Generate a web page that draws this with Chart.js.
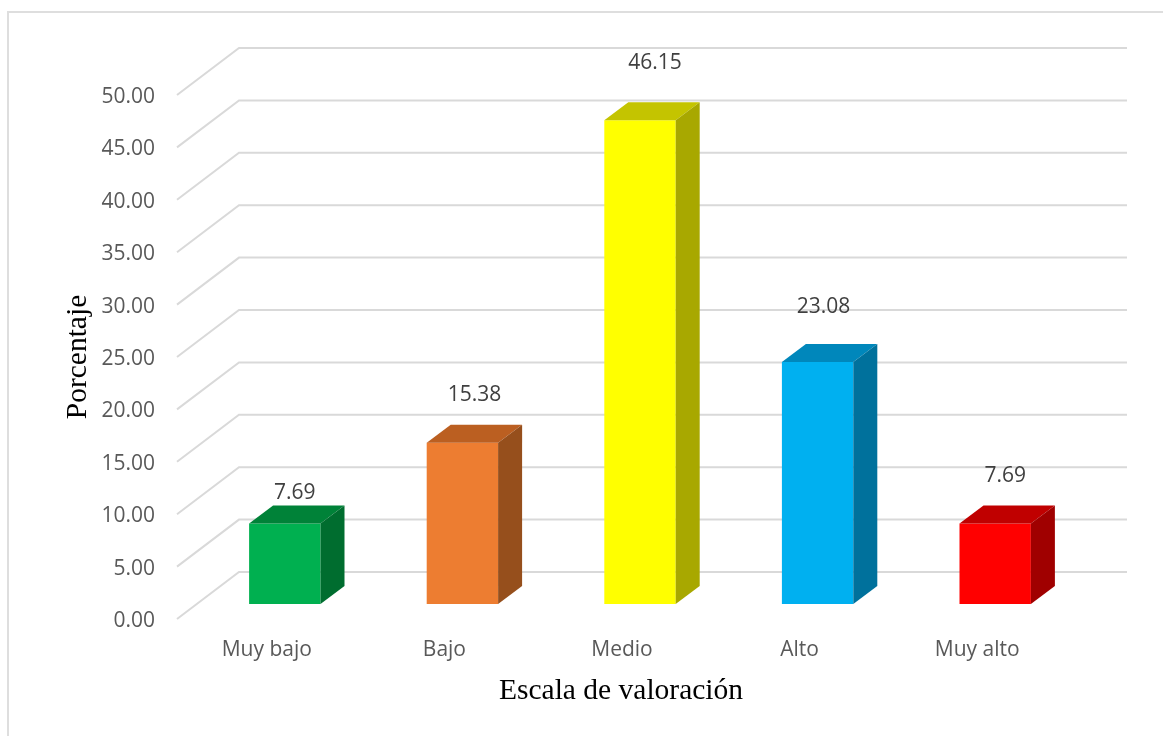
<!DOCTYPE html>
<html>
<head>
<meta charset="utf-8">
<script src="https://cdn.jsdelivr.net/npm/chart.js@4"></script>
<style>
  html, body { margin: 0; padding: 0; background: #fff; }
  #wrap { position: absolute; left: 0; top: 0; width: 1163px; height: 736px; }
  #frame { position: absolute; left: 7px; top: 11px; right: 0; bottom: 0; border-left: 2px solid #dedede; border-top: 2px solid #dedede; }
</style>
</head>
<body>
<div id="wrap"><canvas id="barChart" width="1163" height="736"></canvas><div id="frame"></div></div>
<script>
const categories = ['Muy bajo', 'Bajo', 'Medio', 'Alto', 'Muy alto'];
const porcentajes = [7.69, 15.38, 46.15, 23.08, 7.69];
const etiquetas = ['7.69', '15.38', '46.15', '23.08', '7.69'];
const frontColors = ['#00b050', '#ed7d31', '#ffff00', '#00b0f0', '#ff0000'];
const topColors = ['#008238', '#bb5f21', '#c4c400', '#0087bb', '#c00000'];
const sideColors = ['#006d2f', '#964f1c', '#a8a800', '#00719c', '#a00000'];
// hauteur des etiquettes au-dessus de la barre, deplacees a la main dans l'original
const labelLift = [30, 48, 57, 55, 47];
const labelShift = [10, 12, 15, 6, 10];
const yMax = 50, yStep = 5;
const xTitle = 'Escala de valoración', yTitle = 'Porcentaje';

const DEPTH_X = 24, DEPTH_Y = 18;   // profondeur d'une barre
const WALL_X = 43, WALL_Y = 32;     // du plan des barres au mur du fond
const FLOOR_X = 19, FLOOR_Y = 15;   // du plan des barres au bord avant

// Murs et grille en perspective
const gridPlugin = {
  id: 'grid3d',
  beforeDatasetsDraw(chart) {
    const { ctx, scales: { x, y } } = chart;
    ctx.save();
    ctx.strokeStyle = '#d9d9d9';
    ctx.lineWidth = 2;
    ctx.lineJoin = 'miter';
    for (let v = 0; v <= yMax; v += yStep) {
      const py = y.getPixelForValue(v);
      ctx.beginPath();
      ctx.moveTo(x.left - FLOOR_X, py + FLOOR_Y);
      ctx.lineTo(x.left + WALL_X, py - WALL_Y);
      ctx.lineTo(x.right + WALL_X, py - WALL_Y);
      ctx.stroke();
    }
    ctx.restore();
  }
};

// Faces du dessus et du cote de chaque barre, etiquettes et titres
const bar3dPlugin = {
  id: 'bar3d',
  afterDatasetsDraw(chart) {
    const { ctx } = chart;
    const meta = chart.getDatasetMeta(0);
    ctx.save();
    meta.data.forEach((bar, i) => {
      const right = bar.x + bar.width / 2, left = bar.x - bar.width / 2;
      ctx.fillStyle = topColors[i];
      ctx.beginPath();
      ctx.moveTo(left, bar.y);
      ctx.lineTo(left + DEPTH_X, bar.y - DEPTH_Y);
      ctx.lineTo(right + DEPTH_X, bar.y - DEPTH_Y);
      ctx.lineTo(right, bar.y);
      ctx.closePath();
      ctx.fill();
      ctx.fillStyle = sideColors[i];
      ctx.beginPath();
      ctx.moveTo(right, bar.y);
      ctx.lineTo(right + DEPTH_X, bar.y - DEPTH_Y);
      ctx.lineTo(right + DEPTH_X, bar.base - DEPTH_Y);
      ctx.lineTo(right, bar.base);
      ctx.closePath();
      ctx.fill();
    });
    ctx.font = '21px "Open Sans"';
    ctx.fillStyle = '#404040';
    ctx.textAlign = 'center';
    ctx.textBaseline = 'middle';
    meta.data.forEach((bar, i) => {
      ctx.fillText(etiquetas[i], bar.x + labelShift[i], bar.y - labelLift[i]);
    });
    ctx.font = '29.5px "Liberation Serif"';
    ctx.fillStyle = '#000';
    ctx.fillText(xTitle, 621, 691);
    ctx.translate(78, 357);
    ctx.rotate(-Math.PI / 2);
    ctx.fillText(yTitle, 0, 0);
    ctx.restore();
  }
};

new Chart(document.getElementById('barChart').getContext('2d'), {
  type: 'bar',
  data: {
    labels: categories,
    datasets: [{
      data: porcentajes,
      backgroundColor: frontColors,
      borderWidth: 0,
      barPercentage: 1,
      categoryPercentage: 0.402
    }]
  },
  plugins: [gridPlugin, bar3dPlugin],
  options: {
    responsive: false,
    animation: false,
    layout: { padding: { left: 0, right: 79, top: 80, bottom: 0 } },
    plugins: {
      legend: { display: false },
      tooltip: { enabled: false }
    },
    scales: {
      x: {
        grid: { display: false },
        border: { display: false },
        afterFit(scale) { scale.height = 132; },
        ticks: {
          color: '#595959',
          font: { family: '"Open Sans"', size: 21 },
          labelOffset: -18,
          padding: 25,
          maxRotation: 0
        }
      },
      y: {
        min: 0,
        max: yMax,
        grid: { display: false },
        border: { display: false },
        afterFit(scale) { scale.width = 196; },
        ticks: {
          stepSize: yStep,
          color: '#595959',
          font: { family: '"Open Sans"', size: 21 },
          labelOffset: 17,
          padding: 33,
          callback: v => v.toFixed(2)
        }
      }
    }
  }
});
</script>
</body>
</html>
